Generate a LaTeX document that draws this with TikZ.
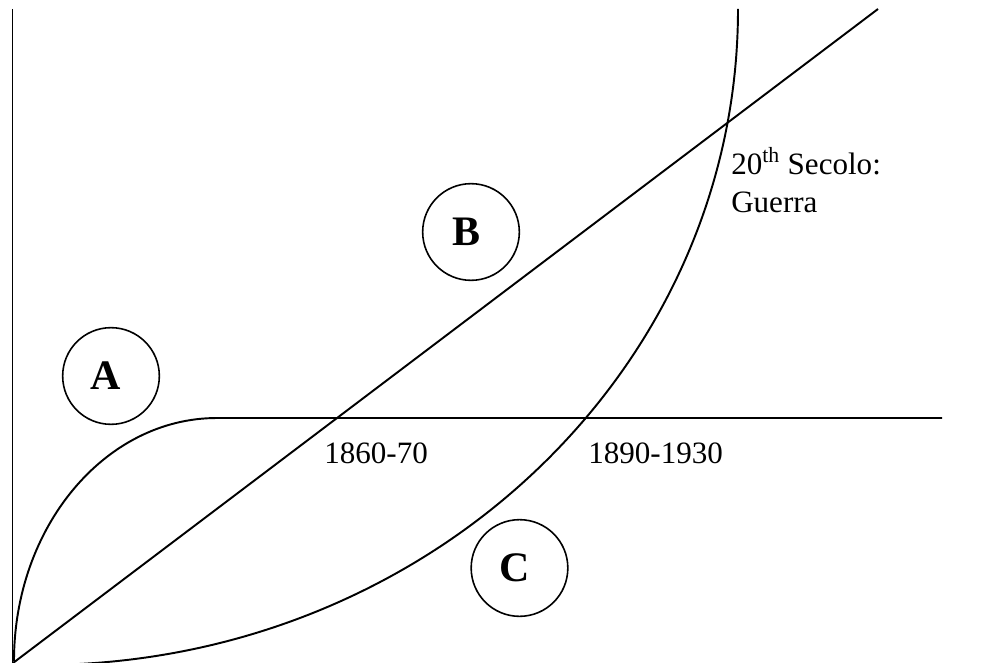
\documentclass[tikz,border=0pt]{standalone}
\usepackage{fontspec}
\setmainfont{Liberation Serif}
\newcommand{\myleftshift}[1]{\kern-3.75pt #1\kern3.75pt}
\begin{document}
\begin{tikzpicture}[x=0.75pt,y=-0.75pt,
  curve/.style={line width=1.45pt},
  circ/.style={circle,draw,line width=1.2pt,minimum size=72.5pt,inner sep=0pt,
    font=\fontsize{31.5pt}{36pt}\selectfont\bfseries},
  lab/.style={anchor=base west,inner sep=0pt,font=\fontsize{23.3pt}{28pt}\selectfont}]
\useasboundingbox (0,0) rectangle (1006,663);
% axis
\coordinate (top) at (12.5,9);
\coordinate (bot) at (12.5,663);
\draw[curve] (top) -- (bot);
% straight line
\coordinate (o) at (13,663);
\coordinate (lend) at (878,9);
\draw[curve] (o) -- (lend);
% horizontal line and curve A
\coordinate (o2) at (14,661);
\coordinate (hs) at (217,418);
\coordinate (he) at (942,418);
\draw[curve] (o2) .. controls (14,527) and (105,418) .. (hs) -- (he);
% curve C
\coordinate (cs) at (40,665);
\coordinate (ce) at (738,9);
\draw[curve] (cs) .. controls (425.5,665) and (738,371.3) .. (ce);
% circles
\node[circ] (A) at (111,376) {\myleftshift{A}};
\node[circ] (B) at (471,232) {\myleftshift{B}};
\node[circ] (C) at (519.5,568) {\myleftshift{C}};
% labels
\node[lab] (l1) at (324,463) {1860-70};
\node[lab] (l2) at (588,463) {1890-1930};
\node[lab] (l3) at (731,175) {20\textsuperscript{th} Secolo:};
\node[lab] (l4) at (731,212) {Guerra};
\end{tikzpicture}
\end{document}
